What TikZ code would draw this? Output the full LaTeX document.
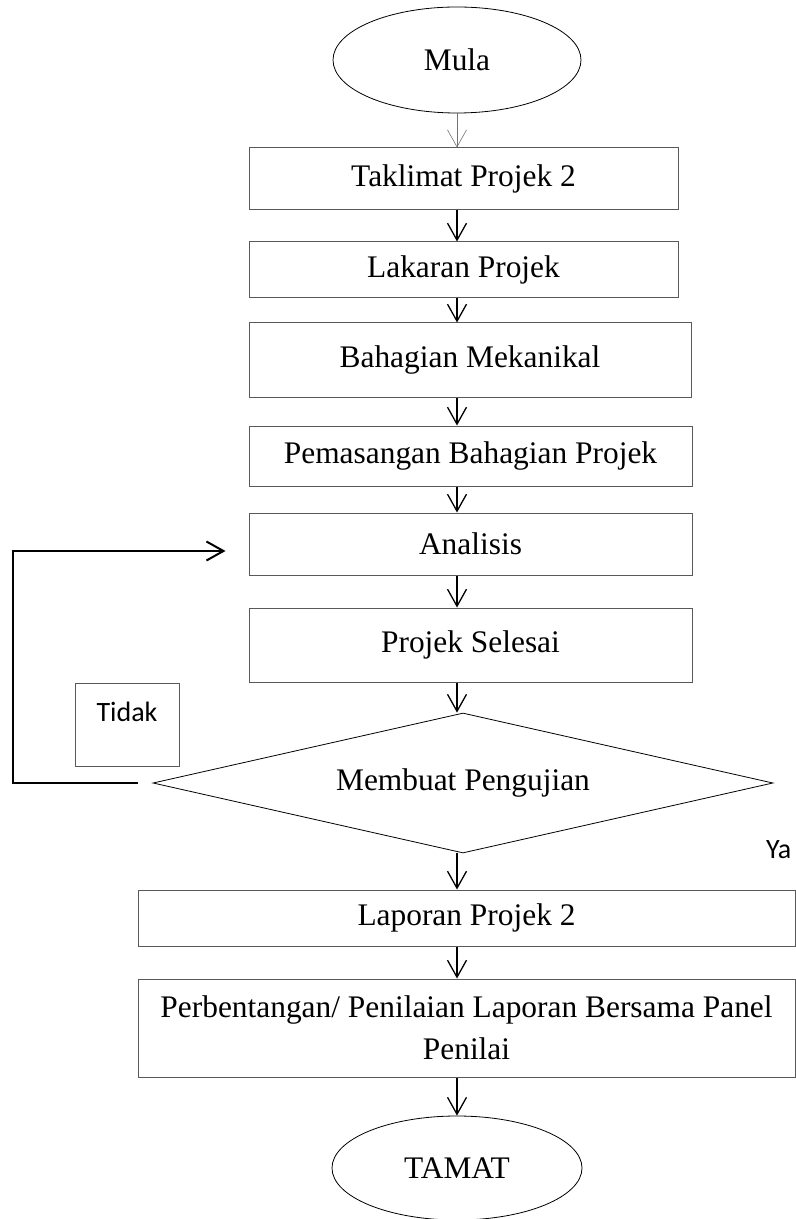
\documentclass[tikz,border=0pt]{standalone}
\usepackage{fontspec}
\setmainfont{Liberation Serif}
\newfontfamily\calibri{Carlito}
\usepackage{tikz}
\usetikzlibrary{positioning,shapes,calc,arrows.meta}
\tikzset{
  basic/.style  = {draw=black!65, line width=0.5pt, rectangle, inner sep=0pt,
                   align=center, font=\fontsize{15.7}{21}\selectfont},
  terminal/.style = {draw, ellipse, thin, inner sep=0pt,
                   font=\fontsize{15.7}{21}\selectfont},
  decision/.style = {draw, diamond, aspect=4.43, thin, inner sep=0pt,
                   font=\fontsize{15.7}{21}\selectfont},
  note/.style   = {font=\calibri\fontsize{14}{17}\selectfont},
  post/.style   = {-{Straight Barb[length=8.5pt,width=9.5pt]}, line width=0.65pt},
  start/.style  = {-{Straight Barb[length=8.5pt,width=9.5pt]}, line width=0.3pt, black!55},
  back/.style   = {-{Straight Barb[length=8.5pt,width=9.5pt]}, line width=1pt}
}

\begin{document}
\begin{tikzpicture}[x=0.5pt, y=-0.5pt]
      \useasboundingbox (0,0) rectangle (796,1219);
      \node[terminal, minimum width=124pt, minimum height=53pt] (mula) at (457,60) {Mula};
      \node[basic, minimum width=214.5pt, minimum height=31pt] (taklimat) at (463.5,179) {Taklimat Projek 2};
      \node[basic, minimum width=214.5pt, minimum height=28pt] (lakaran) at (463.5,270) {Lakaran Projek};
      \node[basic, minimum width=221pt, minimum height=37pt] (mekanikal) at (470,360) {Bahagian Mekanikal};
      \node[basic, minimum width=221.5pt, minimum height=30pt] (pasang) at (470.5,456) {Pemasangan Bahagian Projek};
      \node[basic, minimum width=221.5pt, minimum height=31pt] (analisis) at (470.5,544) {Analisis};
      \node[basic, minimum width=221.5pt, minimum height=37pt] (selesai) at (470.5,645) {Projek Selesai};
      \node[decision, minimum width=310pt, minimum height=70pt] (uji) at (463,783) {Membuat Pengujian};
      \node[basic, minimum width=328.5pt, minimum height=28pt] (laporan) at (466.5,918) {Laporan Projek 2};
      \node[basic, minimum width=328.5pt, minimum height=49pt] (nilai) at (466.5,1028)
           {Perbentangan/ Penilaian Laporan Bersama Panel\\Penilai};
      \node[terminal, minimum width=125pt, minimum height=52pt] (tamat) at (457,1168) {TAMAT};
      \node[basic, note, minimum width=52pt, text height=19pt, text depth=22.5pt] (tidak) at (127,682.5) [anchor=north] {Tidak};
      \node[note, anchor=base west] (ya) at (759,858) {Ya};
      \draw[start] (mula.south) -- (taklimat.north -| mula);
      \draw[post] (taklimat.south -| mula) -- (lakaran.north -| mula);
      \draw[post] (lakaran.south -| mula) -- (mekanikal.north -| mula);
      \draw[post] (mekanikal.south -| mula) -- (pasang.north -| mula);
      \draw[post] (pasang.south -| mula) -- (analisis.north -| mula);
      \draw[post] (analisis.south -| mula) -- (selesai.north -| mula);
      \draw[post] (selesai.south -| mula) -- (uji.north -| mula);
      \draw[post] (uji.south -| mula) -- (laporan.north -| mula);
      \draw[post] (laporan.south -| mula) -- (nilai.north -| mula);
      \draw[post] (nilai.south -| mula) -- (tamat.north);
      \draw[back, shorten <=15pt*0.5, shorten >=23pt*0.5] (uji.west) -- ++(-140,0) |- ([yshift=-3.5pt]analisis.west);
    \end{tikzpicture}
\end{document}
